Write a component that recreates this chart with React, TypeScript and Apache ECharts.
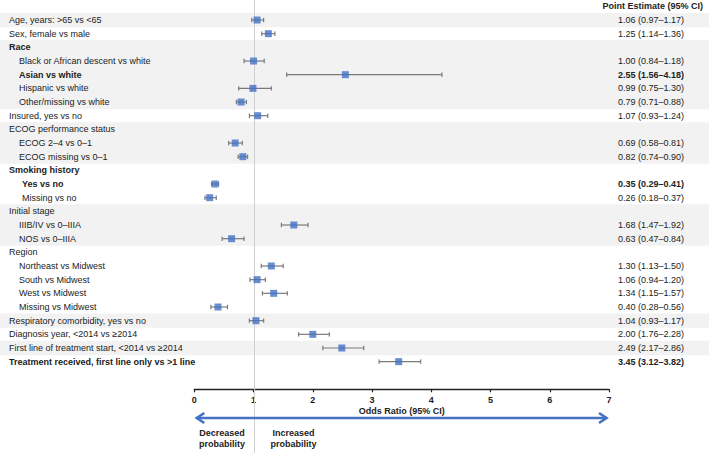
import React, { useEffect, useRef } from "react";
import * as echarts from "echarts";

const rowLabels = [
  "Age, years: >65 vs <65",
  "Sex, female vs male",
  "Race",
  "Black or African descent vs white",
  "Asian vs white",
  "Hispanic vs white",
  "Other/missing vs white",
  "Insured, yes vs no",
  "ECOG performance status",
  "ECOG 2–4 vs 0–1",
  "ECOG missing vs 0–1",
  "Smoking history",
  "Yes vs no",
  "Missing vs no",
  "Initial stage",
  "IIIB/IV vs 0–IIIA",
  "NOS vs 0–IIIA",
  "Region",
  "Northeast vs Midwest",
  "South vs Midwest",
  "West vs Midwest",
  "Missing vs Midwest",
  "Respiratory comorbidity, yes vs no",
  "Diagnosis year, <2014 vs ≥2014",
  "First line of treatment start, <2014 vs ≥2014",
  "Treatment received, first line only vs >1 line",
];
const rowIndent = [0, 0, 0, 1, 1, 1, 1, 0, 0, 1, 1, 0, 2, 2, 0, 1, 1, 0, 1, 1, 1, 1, 0, 0, 0, 0];
const rowBold = [0, 0, 1, 0, 1, 0, 0, 0, 0, 0, 0, 1, 1, 0, 0, 0, 0, 0, 0, 0, 0, 0, 0, 0, 0, 1];
const rowGroup = [0, 1, 2, 2, 2, 2, 2, 3, 4, 4, 4, 5, 5, 5, 6, 6, 6, 7, 7, 7, 7, 7, 8, 9, 10, 11];
const estimates = [1.06, 1.25, null, 1.0, 2.55, 0.99, 0.79, 1.07, null, 0.69, 0.82, null, 0.35, 0.26, null, 1.68, 0.63, null, 1.3, 1.06, 1.34, 0.4, 1.04, 2.0, 2.49, 3.45];
const lowers = [0.97, 1.14, null, 0.84, 1.56, 0.75, 0.71, 0.93, null, 0.58, 0.74, null, 0.29, 0.18, null, 1.47, 0.47, null, 1.13, 0.94, 1.15, 0.28, 0.93, 1.76, 2.17, 3.12];
const uppers = [1.17, 1.36, null, 1.18, 4.18, 1.3, 0.88, 1.24, null, 0.81, 0.9, null, 0.41, 0.37, null, 1.92, 0.84, null, 1.5, 1.2, 1.57, 0.56, 1.17, 2.28, 2.86, 3.82];
const xTicks = [0, 1, 2, 3, 4, 5, 6, 7];
const headerText = "Point Estimate (95% CI)";
const axisTitle = "Odds Ratio (95% CI)";
const leftNote = "Decreased\nprobability";
const rightNote = "Increased\nprobability";

const FONT = "'Liberation Sans', Arial, Helvetica, sans-serif";
const BLUE = "#4472c4";
const TEXT = "#222";

const valueLabels = estimates.map((e, i) =>
  e == null ? "" : `${e.toFixed(2)} (${(lowers[i] as number).toFixed(2)}–${(uppers[i] as number).toFixed(2)})`
);

export default function App() {
  const ref = useRef<HTMLDivElement>(null);
  useEffect(() => {
    document.body.style.margin = "0";
    const chart = echarts.init(ref.current!, null, { renderer: "svg" });
    const lastRow = rowLabels.length - 1;
    const ciData: number[][] = [];
    const ptData: number[][] = [];
    estimates.forEach((e, i) => {
      if (e == null) return;
      ciData.push([lowers[i] as number, uppers[i] as number, i]);
      ptData.push([e, i]);
    });
    const richBase = { fontSize: 9, fontFamily: FONT, color: TEXT };
    chart.setOption({
      animation: false,
      grid: { left: 194.3, right: 100, top: 13.2, bottom: 84.5 },
      graphic: [
        {
          type: "text",
          right: 6,
          top: 1,
          style: { text: headerText, font: `bold 9px ${FONT}`, fill: TEXT },
        },
      ],
      xAxis: {
        type: "value",
        min: 0,
        max: 7,
        interval: 1,
        offset: 20.8,
        axisLine: { show: true, lineStyle: { color: TEXT, width: 1.3 } },
        axisTick: { show: true, length: 3, lineStyle: { color: TEXT, width: 1.2 } },
        axisLabel: { color: TEXT, fontSize: 9, fontWeight: "bold", fontFamily: FONT, margin: 6, formatter: (v: number) => (xTicks.includes(v) ? String(v) : "") },
        splitLine: { show: false },
        name: axisTitle,
        nameLocation: "middle",
        nameGap: 17,
        nameMoveOverlap: false,
        nameTextStyle: { color: TEXT, fontSize: 9, fontWeight: "bold", fontFamily: FONT, verticalAlign: "top" },
      },
      yAxis: [
        {
          type: "category",
          data: rowLabels,
          inverse: true,
          axisLine: { show: false },
          axisTick: { show: false },
          splitLine: { show: false },
          axisLabel: {
            align: "left",
            margin: 185.3,
            interval: 0,
            formatter: (v: string, i: number) => `{${rowBold[i] ? "b" : "n"}${rowIndent[i]}|${v}}`,
            rich: {
              n0: { ...richBase },
              n1: { ...richBase, padding: [0, 0, 0, 10] },
              n2: { ...richBase, padding: [0, 0, 0, 13] },
              b0: { ...richBase, fontWeight: "bold" },
              b1: { ...richBase, fontWeight: "bold", padding: [0, 0, 0, 10] },
              b2: { ...richBase, fontWeight: "bold", padding: [0, 0, 0, 13] },
            },
          },
        },
        {
          type: "category",
          data: rowLabels,
          inverse: true,
          position: "right",
          axisLine: { show: false },
          axisTick: { show: false },
          splitLine: { show: false },
          axisLabel: {
            align: "left",
            margin: 9,
            interval: 0,
            formatter: (_v: string, i: number) => (valueLabels[i] ? `{${rowBold[i] ? "b" : "n"}|${valueLabels[i]}}` : ""),
            rich: {
              n: { ...richBase },
              b: { ...richBase, fontWeight: "bold" },
            },
          },
        },
      ],
      series: [
        {
          type: "custom",
          name: "bands",
          silent: true,
          clip: false,
          z: 0,
          encode: { x: 0, y: 1 },
          data: rowLabels.map((_, i) => [0, i]),
          renderItem: (_p: any, api: any) => {
            const i = api.value(1);
            if (rowGroup[i] % 2 !== 0) return { type: "group", children: [] };
            const c = api.coord([0, i]);
            const h = api.size([0, 1])[1];
            return {
              type: "rect",
              shape: { x: 0, y: c[1] - h / 2 - 0.3, width: api.getWidth(), height: h + 0.6 },
              style: { fill: "#f2f2f2" },
            };
          },
        },
        {
          type: "custom",
          name: "ref",
          silent: true,
          clip: false,
          z: 1,
          encode: { x: 0, y: 1 },
          data: [[1, 0]],
          renderItem: (_p: any, api: any) => {
            const c = api.coord([1, 0]);
            const x = Math.round(c[0]) + 0.5;
            return {
              type: "line",
              shape: { x1: x, y1: 0, x2: x, y2: api.getHeight() },
              style: { stroke: "#cfcfcf", lineWidth: 1 },
            };
          },
        },
        {
          type: "custom",
          name: "ci",
          silent: true,
          clip: false,
          z: 2,
          encode: { x: [0, 1], y: 2 },
          data: ciData,
          renderItem: (_p: any, api: any) => {
            const i = api.value(2);
            const a = api.coord([api.value(0), i]);
            const b = api.coord([api.value(1), i]);
            const st = { stroke: "#7a7a7a", lineWidth: 1.2 };
            return {
              type: "group",
              children: [
                { type: "line", shape: { x1: a[0], y1: a[1], x2: b[0], y2: b[1] }, style: st },
                { type: "line", shape: { x1: a[0], y1: a[1] - 2.2, x2: a[0], y2: a[1] + 2.2 }, style: st },
                { type: "line", shape: { x1: b[0], y1: b[1] - 2.2, x2: b[0], y2: b[1] + 2.2 }, style: st },
              ],
            };
          },
        },
        {
          type: "scatter",
          name: "estimate",
          z: 3,
          symbol: "rect",
          symbolSize: 7,
          itemStyle: { color: BLUE },
          data: ptData,
        },
        {
          type: "custom",
          name: "arrow",
          silent: true,
          clip: false,
          z: 2,
          encode: { x: 0, y: 1 },
          data: [[0, lastRow]],
          renderItem: (_p: any, api: any) => {
            const c0 = api.coord([0, lastRow]);
            const x0 = c0[0];
            const x1 = api.coord([1, lastRow])[0];
            const x7 = api.coord([7, lastRow])[0];
            const yb = c0[1] + api.size([0, 1])[1] / 2;
            const ay = yb + 49.5;
            const st = { stroke: BLUE, lineWidth: 2.6, fill: null };
            return {
              type: "group",
              children: [
                { type: "line", shape: { x1: x0 + 2, y1: ay, x2: x7 - 2, y2: ay }, style: st },
                { type: "polyline", shape: { points: [[x0 + 10, ay - 5], [x0 + 2.5, ay], [x0 + 10, ay + 5]] }, style: st },
                { type: "polyline", shape: { points: [[x7 - 10, ay - 5], [x7 - 2.5, ay], [x7 - 10, ay + 5]] }, style: st },
                {
                  type: "text",
                  x: (x0 + x1) / 2 - 2,
                  y: ay + 9,
                  style: { text: leftNote, font: `bold 9px ${FONT}`, fill: TEXT, align: "center", verticalAlign: "top", lineHeight: 11 },
                },
                {
                  type: "text",
                  x: x1 + 40,
                  y: ay + 9,
                  style: { text: rightNote, font: `bold 9px ${FONT}`, fill: TEXT, align: "center", verticalAlign: "top", lineHeight: 11 },
                },
              ],
            };
          },
        },
      ],
    });
    return () => chart.dispose();
  }, []);
  return <div ref={ref} style={{ width: 709, height: 453 }} />;
}
